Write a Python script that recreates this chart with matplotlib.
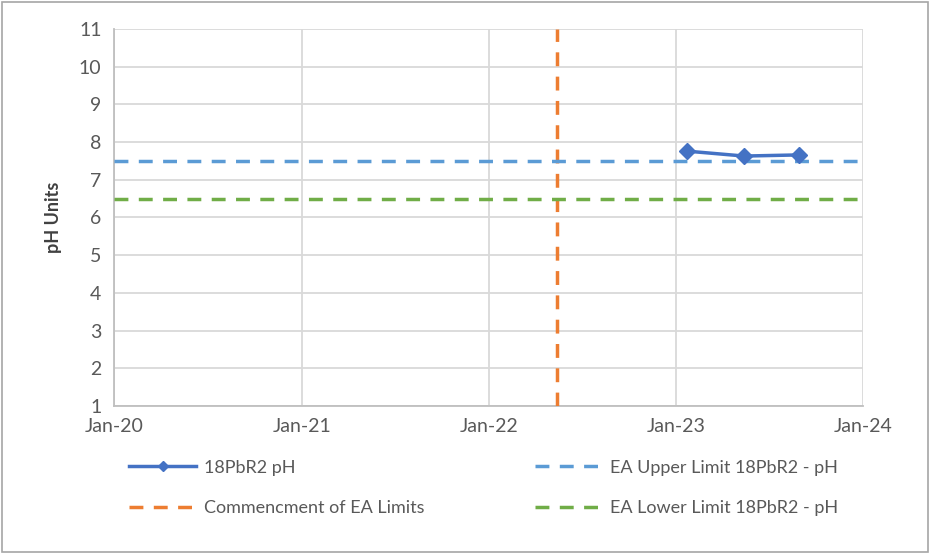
import matplotlib
matplotlib.use("Agg")
import matplotlib.pyplot as plt
import matplotlib.dates as mdates
from matplotlib.patches import Rectangle
import numpy as np

plt.rcParams['font.family'] = ['Lato', 'DejaVu Sans']

# Monitoring results for 18PbR2
sample_dates = np.array(['2023-01-23', '2023-05-14', '2023-08-29'], dtype='datetime64[D]')
ph_values = [7.76, 7.63, 7.66]

# EA permit limits
limit_dates = np.array(['2020-01-01', '2024-01-01'], dtype='datetime64[D]')
upper_limit = [7.5, 7.5]
lower_limit = [6.5, 6.5]

# Start of EA limits
commencement_dates = np.array(['2022-05-15', '2022-05-15'], dtype='datetime64[D]')
commencement_y = [1, 11]

x_ticks = np.array(['2020-01-01', '2021-01-01', '2022-01-01', '2023-01-01', '2024-01-01'],
                   dtype='datetime64[D]')
y_ticks = list(range(1, 12))

fig = plt.figure(figsize=(9.3, 5.54), dpi=100)
ax = fig.add_axes([114/930, 1 - 406/554, (863 - 114)/930, (406 - 29)/554])

ax.plot(sample_dates, ph_values, color='#4472C4', lw=2.5, marker='D', ms=8,
        label='18PbR2 pH', zorder=5)
ax.plot(commencement_dates, commencement_y, color='#ED7D31', lw=2.5,
        dashes=(4, 3), label='Commencment of EA Limits', zorder=4)
ax.plot(limit_dates, upper_limit, color='#5B9BD5', lw=2.5, dashes=(4, 3),
        label='EA Upper Limit 18PbR2 - pH', zorder=4)
ax.plot(limit_dates, lower_limit, color='#70AD47', lw=2.5, dashes=(4, 3),
        label='EA Lower Limit 18PbR2 - pH', zorder=4)

ax.set_xlim(x_ticks[0], x_ticks[-1])
ax.set_ylim(1, 11)
ax.set_xticks(x_ticks)
ax.xaxis.set_major_formatter(mdates.DateFormatter('%b-%y'))
ax.set_yticks(y_ticks)
ax.grid(True, color='#D9D9D9', lw=1.3)
ax.set_axisbelow(True)
for side in ['top', 'right']:
    ax.spines[side].set_visible(False)
for side in ['left', 'bottom']:
    ax.spines[side].set_color('#BFBFBF')
    ax.spines[side].set_linewidth(1.3)
ax.tick_params(length=0, labelsize=14, labelcolor='#595959', pad=9)
ax.set_ylabel('pH Units', fontsize=13, fontweight='bold', color='#404040', labelpad=12)

handles, labels = ax.get_legend_handles_labels()
fig.legend(handles, labels, ncol=2, loc='center', bbox_to_anchor=(0.52, 1 - 488/554),
           frameon=False, fontsize=13, labelcolor='#595959', handlelength=3.7,
           handletextpad=0.45, columnspacing=6.1, labelspacing=1.38, markerscale=0.6)

fig.patches.append(Rectangle((0.002, 0.003), 0.996, 0.994, transform=fig.transFigure,
                             fill=False, edgecolor='#A6A6A6', lw=1.2))

fig.savefig('out.png', dpi=100)
